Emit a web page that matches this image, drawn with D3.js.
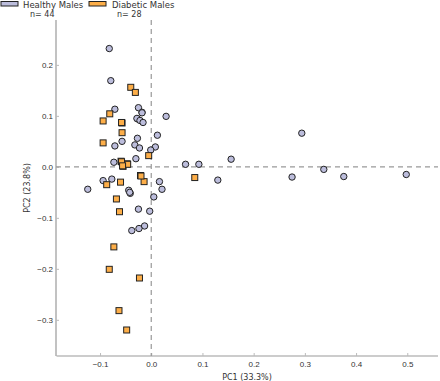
<!DOCTYPE html>
<html>
<head>
<meta charset="utf-8">
<script src="https://d3js.org/d3.v7.min.js"></script>
<style>
  body { margin: 0; background: #fff; }
  svg { font-family: "DejaVu Sans", sans-serif; }
</style>
</head>
<body>
<div class="canvas"></div>
<script>
// PCA scores: [PC1, PC2]
const healthyMales = [
  [-0.082, 0.232], [-0.079, 0.169], [0.029, 0.099], [-0.071, 0.113],
  [-0.025, 0.116], [-0.018, 0.107], [-0.027, 0.094], [-0.028, 0.095],
  [-0.022, 0.091], [-0.016, 0.087], [0.012, 0.062], [-0.057, 0.050],
  [-0.071, 0.041], [-0.032, 0.043], [-0.027, 0.056], [-0.023, 0.037],
  [0.008, 0.039], [-0.001, 0.033], [-0.030, 0.016], [-0.073, 0.009],
  [0.067, 0.005], [0.093, 0.005], [0.156, 0.015], [0.294, 0.066],
  [0.130, -0.026], [0.275, -0.020], [0.337, -0.005], [0.376, -0.019],
  [0.498, -0.015], [0.016, -0.029], [0.021, -0.044], [-0.094, -0.027],
  [-0.077, -0.024], [-0.124, -0.044], [-0.044, -0.046], [-0.041, -0.052],
  [0.005, -0.059], [-0.025, -0.083], [-0.003, -0.087], [-0.013, -0.116],
  [-0.024, -0.121], [-0.038, -0.125], [-0.042, -0.050], [-0.018, 0.106]
];
const diabeticMales = [
  [-0.040, 0.156], [-0.031, 0.146], [-0.081, 0.104], [-0.094, 0.090],
  [-0.057, 0.086], [-0.057, 0.067], [-0.094, 0.047], [-0.005, 0.022],
  [-0.059, 0.011], [-0.047, 0.006], [-0.055, 0.001], [0.085, -0.021],
  [-0.021, -0.017], [-0.014, -0.029], [-0.087, -0.035], [-0.060, -0.030],
  [-0.068, -0.063], [-0.062, -0.088], [-0.073, -0.157], [-0.082, -0.201],
  [-0.023, -0.218], [-0.063, -0.282], [-0.048, -0.320], [-0.058, 0.010],
  [-0.046, 0.005], [-0.056, 0.002], [-0.020, -0.018], [-0.058, 0.087]
];
const groups = ['Healthy Males', 'Diabetic Males'];
const xTicks = [-0.1, 0.0, 0.1, 0.2, 0.3, 0.4, 0.5];
const yTicks = [-0.3, -0.2, -0.1, 0.0, 0.1, 0.2];
const xLabel = 'PC1 (33.3%)';
const yLabel = 'PC2 (23.8%)';

const width = 440;
const height = 381;
const margin = { top: 20, right: 2, bottom: 25, left: 56 };
const graphWidth = width - margin.left - margin.right;
const graphHeight = height - margin.top - margin.bottom;

const svg = d3.select('.canvas')
  .append('svg')
  .attr('width', width)
  .attr('height', height);

const graph = svg.append('g')
  .attr('transform', `translate(${margin.left}, ${margin.top})`);

const x = d3.scaleLinear()
  .domain([-0.186, 0.56])
  .range([0, graphWidth]);

const y = d3.scaleLinear()
  .domain([-0.371, 0.288])
  .range([graphHeight, 0]);

const fmt = d => (d < 0 ? '\u2212' : '') + Math.abs(d).toFixed(1);

// axes, ticks pointing inward like old matplotlib
const xAxis = d3.axisBottom(x).tickValues(xTicks).tickSize(-3).tickPadding(5).tickFormat(fmt);
const yAxis = d3.axisLeft(y).tickValues(yTicks).tickSize(-3).tickPadding(3).tickFormat(fmt);

const xAxisGroup = graph.append('g')
  .attr('transform', `translate(0, ${graphHeight})`)
  .call(xAxis);
const yAxisGroup = graph.append('g').call(yAxis);

[xAxisGroup, yAxisGroup].forEach(g => {
  g.select('.domain').attr('stroke', '#999').attr('stroke-width', 1.2);
  g.selectAll('.tick line').attr('stroke', '#bbb');
  g.selectAll('.tick text').attr('fill', '#333').attr('font-size', 8);
});
xAxisGroup.select('.domain').attr('d', `M0.5,0H${graphWidth}`);
yAxisGroup.select('.domain').attr('d', `M0,0V${graphHeight}`);

// dashed zero lines
graph.append('line')
  .attr('x1', 0).attr('x2', graphWidth)
  .attr('y1', y(0)).attr('y2', y(0))
  .attr('stroke', '#999').attr('stroke-width', 1.2)
  .attr('stroke-dasharray', '5,4');
graph.append('line')
  .attr('x1', x(0)).attr('x2', x(0))
  .attr('y1', 0).attr('y2', graphHeight)
  .attr('stroke', '#999').attr('stroke-width', 1.2)
  .attr('stroke-dasharray', '5,4');

// healthy circles
graph.selectAll('circle.healthy')
  .data(healthyMales)
  .enter()
  .append('circle')
  .attr('class', 'healthy')
  .attr('cx', d => x(d[0]))
  .attr('cy', d => y(d[1]))
  .attr('r', 3.2)
  .attr('fill', '#bcbddc')
  .attr('stroke', '#222')
  .attr('stroke-width', 1);

// diabetic squares
const s = 6;
graph.selectAll('rect.diabetic')
  .data(diabeticMales)
  .enter()
  .append('rect')
  .attr('class', 'diabetic')
  .attr('x', d => x(d[0]) - s / 2)
  .attr('y', d => y(d[1]) - s / 2)
  .attr('width', s)
  .attr('height', s)
  .attr('fill', '#fdae48')
  .attr('stroke', '#222')
  .attr('stroke-width', 1);

// axis labels
svg.append('text')
  .attr('x', margin.left + graphWidth / 2)
  .attr('y', 380)
  .attr('text-anchor', 'middle')
  .attr('font-size', 8)
  .attr('fill', '#333')
  .text(xLabel);

svg.append('text')
  .attr('transform', `translate(30, ${margin.top + graphHeight / 2}) rotate(-90)`)
  .attr('text-anchor', 'middle')
  .attr('font-size', 8)
  .attr('fill', '#333')
  .text(yLabel);

// legend
const legend = [
  { name: groups[0], n: healthyMales.length, fill: '#bcbddc', x: 1, tx: 23, nx: 30 },
  { name: groups[1], n: diabeticMales.length, fill: '#fdae48', x: 89, tx: 112, nx: 117 }
];
const lg = svg.append('g');
legend.forEach(l => {
  lg.append('rect')
    .attr('x', l.x).attr('y', 1.5)
    .attr('width', 17).attr('height', 4.5)
    .attr('fill', l.fill)
    .attr('stroke', '#222').attr('stroke-width', 1);
  lg.append('text')
    .attr('x', l.tx).attr('y', 8)
    .attr('font-size', 8.5).attr('fill', '#333')
    .text(l.name);
  lg.append('text')
    .attr('x', l.nx).attr('y', 17)
    .attr('font-size', 8).attr('fill', '#333')
    .text(`n= ${l.n}`);
});
</script>
</body>
</html>
